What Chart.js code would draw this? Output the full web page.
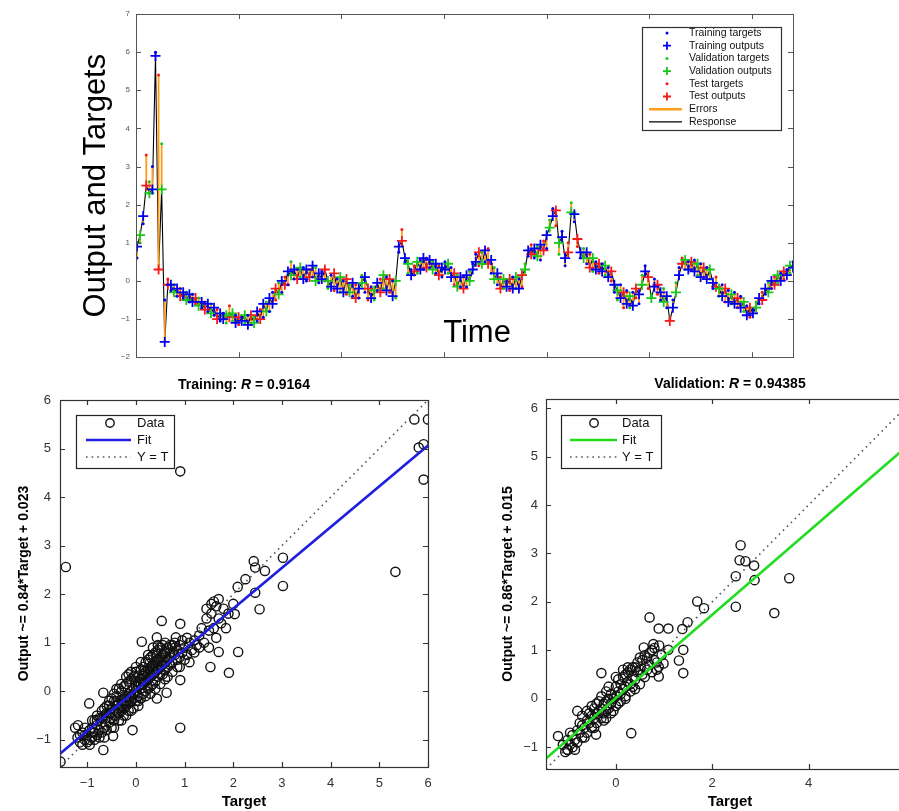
<!DOCTYPE html>
<html>
<head>
<meta charset="utf-8">
<title>Network response and regression</title>
<script src="https://cdn.jsdelivr.net/npm/chart.js@4.4.1/dist/chart.umd.min.js"></script>
<style>
  html, body { margin: 0; padding: 0; background: #fff; overflow: hidden; }
  canvas { position: absolute; display: block; }
</style>
</head>
<body>
<canvas id="responseChart" width="899" height="368" style="left:0;top:0"></canvas>
<canvas id="trainChart" width="450" height="443" style="left:0;top:368px"></canvas>
<canvas id="valChart" width="480" height="443" style="left:450px;top:368px"></canvas>
<script>
const FONT = "'Liberation Sans', Arial, Helvetica, sans-serif";

// ---- response over time (one value every SAMPLE_STEP time steps) ----
const SAMPLE_STEP = 3;
const timeTargets = [
  0.6, 1.0, 1.5, 3.3, 2.6, 3.0, 6.0, 5.4, 3.6, -0.5,
  0.05, -0.25, -0.1, -0.4, -0.2, -0.45, -0.3, -0.55, -0.35, -0.6,
  -0.45, -0.7, -0.55, -0.8, -0.6, -0.9, -0.75, -1.05, -0.85, -1.1,
  -0.65, -1.05, -0.9, -1.15, -0.95, -1.1, -0.9, -1.15, -0.95, -1.05,
  -0.75, -0.95, -0.55, -0.8, -0.3, -0.5, -0.05, -0.3, 0.1, -0.1,
  0.5, 0.05, 0.3, 0.1, 0.35, 0.0, 0.3, 0.1, 0.35, -0.05,
  0.25, 0.0, -0.2, 0.15, -0.25, 0.05, -0.3, 0.0, -0.35, -0.1,
  -0.4, -0.1, -0.45, 0.15, -0.3, -0.5, -0.15, -0.5, -0.25, 0.05,
  -0.2, 0.1, -0.3, 0.0, -0.45, 0.75, 1.35, 0.5, 0.2, 0.3,
  0.4, 0.2, 0.55, 0.3, 0.6, 0.35, 0.5, 0.2, 0.4, 0.1,
  0.5, 0.2, 0.35, -0.1, 0.15, -0.15, 0.1, -0.15, 0.25, 0.45,
  0.7, 0.4, 0.75, 0.5, 0.85, 0.2, 0.35, -0.1, 0.1, -0.2,
  0.0, -0.25, 0.1, -0.2, 0.05, -0.15, 0.45, 0.65, 0.95, 0.6,
  0.9, 0.55, 1.05, 0.85, 1.6, 1.9, 1.45, 0.7, 1.3, 0.4,
  1.0, 2.05, 1.55, 0.9, 0.6, 0.85, 0.45, 0.7, 0.25, 0.5,
  0.2, 0.45, 0.15, 0.35, 0.0, -0.3, -0.5, -0.1, -0.7, -0.25,
  -0.7, -0.3, -0.45, -0.6, 0.15, 0.4, -0.2, -0.4, 0.05, -0.35,
  -0.5, -0.2, -0.7, -1.0, -0.5, -0.05, 0.35, 0.6, 0.3, 0.5,
  0.3, 0.55, 0.15, 0.45, 0.1, 0.35, 0.05, -0.2, 0.1, -0.4,
  -0.1, -0.55, -0.25, -0.6, -0.3, -0.7, -0.4, -0.8, -0.65, -0.95,
  -0.75, -0.55, -0.6, -0.3, -0.35, -0.05, -0.2, 0.1, -0.05, 0.2,
  0.05, 0.3, 0.2, 0.5
];
const timeOutputs = [
  0.9, 1.2, 1.7, 2.5, 2.3, 2.4, 5.9, 0.3, 2.4, -1.6,
  -0.1, -0.1, -0.3, -0.2, -0.4, -0.3, -0.5, -0.35, -0.55, -0.45,
  -0.65, -0.55, -0.75, -0.6, -0.85, -0.7, -1.0, -0.85, -1.0, -0.9,
  -0.95, -0.85, -1.1, -0.95, -1.05, -0.9, -1.15, -0.9, -1.1, -0.8,
  -1.0, -0.6, -0.8, -0.45, -0.6, -0.2, -0.35, 0.0, -0.1, 0.25,
  0.15, 0.3, 0.05, 0.35, 0.05, 0.3, 0.1, 0.4, 0.0, 0.2,
  0.05, 0.3, 0.0, -0.15, 0.2, -0.2, 0.1, -0.3, 0.05, -0.3,
  -0.05, -0.45, -0.2, -0.05, 0.1, -0.2, -0.45, -0.25, -0.05, -0.3,
  0.15, -0.25, 0.05, -0.4, 0.0, 0.9, 1.05, 0.6, 0.45, 0.15,
  0.25, 0.5, 0.3, 0.6, 0.35, 0.55, 0.3, 0.45, 0.15, 0.35,
  0.3, 0.45, 0.1, 0.2, -0.15, 0.1, -0.2, 0.15, 0.0, 0.3,
  0.5, 0.75, 0.45, 0.8, 0.45, 0.55, 0.05, 0.2, -0.2, 0.05,
  -0.15, 0.05, -0.2, 0.1, -0.2, 0.15, 0.3, 0.8, 0.7, 0.85,
  0.65, 0.95, 0.8, 1.2, 1.4, 1.7, 1.85, 1.0, 1.15, 0.6,
  0.75, 1.8, 1.75, 1.1, 0.75, 0.6, 0.75, 0.35, 0.6, 0.3,
  0.45, 0.25, 0.4, 0.1, 0.25, -0.1, -0.25, -0.45, -0.3, -0.6,
  -0.4, -0.65, -0.2, -0.35, -0.1, 0.25, 0.1, -0.45, -0.15, -0.1,
  -0.3, -0.55, -0.4, -1.05, -0.7, -0.3, 0.15, 0.45, 0.55, 0.3,
  0.5, 0.25, 0.45, 0.1, 0.35, 0.05, 0.3, -0.05, -0.15, -0.2,
  -0.4, -0.2, -0.55, -0.35, -0.6, -0.45, -0.7, -0.55, -0.9, -0.7,
  -0.85, -0.7, -0.45, -0.5, -0.2, -0.3, 0.0, -0.1, 0.15, 0.0,
  0.25, 0.15, 0.4, 0.35
];
// t = training, v = validation, s = test
const timeSplit =
  'tvtsvttsvtstvtstvttsvtstvtsttvsvtstvtsvtstvttsvtstvtsvttstvt' +
  'tsvtstvtsvtstvtstvtsvtstvtstvtsvttstvtsttvtsvtstvttsvtstvtsv' +
  'tstvtsvtstvtstvtsvttsvtstvtsvtstvtstvtstvtstvtsvtstvtstvtsvt' +
  'stvtstvtsvtstvtstvtstvtstvtsvtstvtstvtst';
const timeRange = [0, 640];
const timeTicks = [0, 100, 200, 300, 400, 500, 600];
const responseRange = [-2, 7];
const responseTicks = [-2, -1, 0, 1, 2, 3, 4, 5, 6, 7];

// ---- regression panels: [target, output] ----
const trainPoints = [
  [-1.2, -0.95], [-1.15, -1.05], [-1.1, -0.85], [-1.05, -1.0], [-1.0, -0.9], [-1.0, -1.05], [-0.95, -0.8], [-0.95, -1.0],
  [-0.9, -0.75], [-0.9, -0.95], [-0.85, -0.85], [-0.85, -0.6], [-0.8, -0.7], [-0.8, -0.9], [-0.75, -0.55], [-0.75, -0.8],
  [-0.7, -0.65], [-0.7, -0.4], [-0.65, -0.75], [-0.65, -0.5], [-0.6, -0.55], [-0.6, -0.3], [-0.55, -0.45], [-0.55, -0.65],
  [-0.5, -0.35], [-0.5, -0.55], [-0.5, -0.15], [-0.45, -0.4], [-0.45, -0.6], [-0.45, -0.2], [-0.4, -0.3], [-0.4, -0.5],
  [-0.4, -0.1], [-0.35, -0.25], [-0.35, -0.45], [-0.35, 0.05], [-0.3, -0.2], [-0.3, -0.4], [-0.3, 0.0], [-0.3, -0.6],
  [-0.25, -0.15], [-0.25, -0.35], [-0.25, 0.1], [-0.2, -0.1], [-0.2, -0.3], [-0.2, 0.15], [-0.2, -0.5], [-0.15, -0.05],
  [-0.15, -0.25], [-0.15, 0.2], [-0.1, 0.0], [-0.1, -0.2], [-0.1, 0.25], [-0.1, -0.4], [-0.05, 0.05], [-0.05, -0.15],
  [-0.05, 0.3], [0.0, 0.0], [0.0, -0.2], [0.0, 0.2], [0.0, 0.4], [0.05, 0.1], [0.05, -0.1], [0.05, 0.3],
  [0.1, 0.05], [0.1, 0.25], [0.1, -0.15], [0.1, 0.45], [0.15, 0.15], [0.15, 0.35], [0.15, -0.05], [0.2, 0.2],
  [0.2, 0.4], [0.2, 0.0], [0.2, 0.6], [0.25, 0.25], [0.25, 0.45], [0.25, 0.05], [0.3, 0.3], [0.3, 0.5],
  [0.3, 0.1], [0.3, 0.7], [0.35, 0.35], [0.35, 0.55], [0.35, 0.15], [0.4, 0.4], [0.4, 0.6], [0.4, 0.2],
  [0.4, 0.8], [0.45, 0.45], [0.45, 0.65], [0.45, 0.3], [0.5, 0.5], [0.5, 0.7], [0.5, 0.35], [0.5, 0.9],
  [0.55, 0.55], [0.55, 0.75], [0.6, 0.6], [0.6, 0.8], [0.6, 0.45], [0.65, 0.65], [0.65, 0.9], [0.7, 0.7],
  [0.7, 0.55], [0.75, 0.8], [0.75, 0.95], [0.8, 0.75], [0.85, 0.85], [0.9, 0.7], [0.9, 0.95], [0.95, 0.8],
  [1.0, 0.9], [1.05, 0.75], [1.1, 1.0], [1.15, 0.85], [1.2, 1.05], [1.25, 0.95], [1.3, 1.15], [1.35, 1.3],
  [1.4, 1.0], [1.45, 1.5], [1.5, 1.25], [1.5, 0.9], [1.55, 1.6], [1.6, 1.85], [1.6, 1.3], [1.65, 1.1],
  [1.65, 1.75], [1.7, 1.9], [1.7, 1.5], [1.75, 1.4], [1.8, 1.7], [1.85, 1.3], [1.9, 1.6], [2.0, 1.8],
  [1.55, 1.8], [1.45, 1.7],
  [-0.6, -0.45], [-0.5, -0.45], [-0.4, -0.2], [-0.35, -0.35], [-0.3, -0.3], [-0.25, -0.25], [-0.2, -0.2], [-0.15, -0.15],
  [-0.1, -0.1], [-0.05, -0.05], [0.0, 0.1], [0.05, 0.2], [0.1, 0.15], [0.15, 0.25], [0.2, 0.3], [0.25, 0.35],
  [0.3, 0.4], [0.35, 0.45], [0.4, 0.5], [0.45, 0.55], [0.5, 0.6], [0.55, 0.65], [0.6, 0.7], [0.7, 0.8],
  [-0.7, -0.55], [-0.8, -0.6], [-0.9, -0.85], [-1.05, -0.9], [0.8, 0.9], [0.85, 0.65], [-0.55, -0.3], [-0.45, -0.05],
  [0.25, 0.65], [0.35, 0.75], [0.45, 0.85], [0.55, 0.95], [0.65, 0.5], [0.75, 0.6], [0.05, -0.3], [-0.15, 0.35],
  [-1.1, -1.1], [-1.05, -0.75], [-0.95, -1.1], [-0.85, -1.0], [-0.8, -0.5], [-0.75, -0.95], [-0.7, -0.85], [-0.65, -0.35],
  [-0.6, -0.8], [-0.55, -0.2], [-0.5, -0.75], [-0.45, -0.75], [-0.4, 0.05], [-0.35, -0.6], [-0.3, 0.15], [-0.25, -0.5],
  [-0.2, 0.3], [-0.15, -0.4], [-0.1, 0.4], [-0.05, -0.35], [0.0, 0.5], [0.05, -0.2], [0.1, 0.6], [0.15, 0.5],
  [0.2, -0.1], [0.25, 0.75], [0.3, -0.05], [0.35, 0.9], [0.4, 0.05], [0.45, 0.95], [0.5, 0.15], [0.55, 0.35],
  [0.6, 1.0], [0.65, 0.3], [0.7, 0.95], [0.75, 0.4], [0.8, 1.0], [0.85, 0.5], [0.9, 0.5], [0.95, 1.05],
  [1.0, 0.65], [1.05, 1.1], [1.1, 0.6], [1.2, 0.8], [1.3, 0.9], [-1.25, -0.75], [-1.15, -0.9], [-0.9, -0.6],
  [-0.65, -0.95], [0.6, 0.25],
  [5.72, 5.6], [6.0, 5.6], [5.81, 5.02], [5.91, 5.09], [5.91, 4.36], [0.91, 4.53], [-1.44, 2.56], [5.33, 2.46],
  [3.02, 2.75], [3.02, 2.17], [2.42, 2.68], [2.45, 2.55], [2.65, 2.48], [2.25, 2.31], [2.09, 2.15], [2.45, 2.03],
  [2.54, 1.69], [2.03, 1.59], [1.7, 0.81], [2.1, 0.81], [1.53, 0.5], [1.91, 0.38], [0.91, 0.23], [0.91, -0.75],
  [0.53, 1.45], [0.91, 1.39], [0.12, 1.02], [0.43, 1.11], [0.82, 1.11], [-0.96, -0.25], [-1.19, -0.7], [-0.67, -1.21],
  [-1.55, -1.45], [-0.47, -0.92], [-0.07, -0.8], [-0.67, -0.03], [0.63, -0.03], [0.43, -0.15]
];
const trainFit = { slope: 0.84, offset: 0.023 };
const trainR = 0.9164;
const trainLimits = [-1.56, 6];
const trainTicks = [-1, 0, 1, 2, 3, 4, 5, 6];

const valPoints = [
  [-1.1, -0.95], [-1.05, -1.1], [-1.0, -0.85], [-1.0, -1.05], [-0.95, -0.95], [-0.9, -0.75], [-0.9, -1.0], [-0.85, -0.85],
  [-0.8, -0.65], [-0.8, -0.9], [-0.75, -0.7], [-0.7, -0.55], [-0.7, -0.8], [-0.65, -0.6], [-0.6, -0.45], [-0.6, -0.7],
  [-0.55, -0.5], [-0.5, -0.35], [-0.5, -0.6], [-0.45, -0.4], [-0.45, -0.2], [-0.4, -0.3], [-0.4, -0.5], [-0.35, -0.25],
  [-0.35, -0.05], [-0.3, -0.2], [-0.3, -0.4], [-0.25, -0.1], [-0.25, -0.3], [-0.2, -0.05], [-0.2, -0.25], [-0.15, 0.0],
  [-0.15, -0.2], [-0.1, -0.1], [-0.1, 0.1], [-0.05, 0.0], [-0.05, -0.25], [0.0, 0.05], [0.0, 0.25], [0.0, -0.15],
  [0.05, 0.15], [0.05, 0.4], [0.1, 0.1], [0.1, 0.3], [0.1, -0.05], [0.15, 0.2], [0.15, 0.45], [0.2, 0.25],
  [0.2, 0.05], [0.25, 0.35], [0.25, 0.55], [0.3, 0.3], [0.3, 0.15], [0.35, 0.45], [0.35, 0.65], [0.4, 0.4],
  [0.45, 0.55], [0.5, 0.6], [0.5, 0.3], [0.55, 0.8], [0.6, 0.65], [0.6, 0.45], [0.65, 0.85], [0.7, 0.7],
  [0.75, 1.0], [0.8, 0.8], [0.85, 0.6], [0.9, 1.1], [0.95, 0.9], [0.25, 0.65], [0.2, 0.5], [-0.2, 0.15],
  [-0.6, -0.25], [0.4, 0.2],
  [-0.95, -0.7], [-0.85, -1.05], [-0.75, -0.5], [-0.65, -0.8], [-0.55, -0.3], [-0.5, -0.15], [-0.45, -0.6], [-0.4, -0.1],
  [-0.3, 0.05], [-0.25, -0.45], [-0.15, 0.25], [-0.1, -0.3], [0.0, 0.45], [0.05, -0.1], [0.15, 0.6], [0.2, 0.0],
  [0.3, 0.6], [0.35, 0.25], [0.45, 0.75], [0.5, 0.85], [0.55, 0.5], [0.65, 0.6], [0.7, 0.95], [0.75, 0.55],
  [0.8, 1.05], [0.85, 0.75], [0.6, 0.9], [0.4, 0.65], [-0.2, -0.4], [-0.7, -0.35],
  [2.59, 3.17], [2.57, 2.86], [2.69, 2.84], [2.87, 2.75], [2.88, 2.45], [2.49, 2.53], [3.6, 2.49], [3.29, 1.77],
  [2.49, 1.9], [1.69, 2.01], [1.83, 1.87], [0.7, 1.68], [1.49, 1.58], [1.38, 1.44], [1.09, 1.45], [0.89, 1.45],
  [1.4, 1.01], [1.31, 0.79], [1.4, 0.53], [1.09, 1.01], [-0.3, 0.53], [0.32, -0.71], [-0.41, -0.74], [-0.8, -0.25],
  [-1.2, -0.77], [-1.0, -1.06], [0.89, 0.46], [0.89, 0.66], [0.99, 0.73], [0.58, 1.06], [0.78, 1.13]
];
const valFit = { slope: 0.86, offset: 0.015 };
const valR = 0.94385;
const valLimits = [-1.45, 6.19];
const valXTicks = [0, 2, 4, 6];
const valYTicks = [-1, 0, 1, 2, 3, 4, 5, 6];

const BLUE = '#0000f0';
const GREEN = '#19c619';
const RED = '#f51a1a';
const ORANGE = '#ff9c1a';

const minusSign = v => String(v).replace('-', '\u2212');
const setTicks = values => scale => { scale.ticks = values.map(v => ({ value: v })); };

// axes box with inward tick marks on every side (MATLAB look)
const matlabAxes = {
  id: 'matlabAxes',
  afterDatasetsDraw(chart, args, opts) {
    if (!opts.color) return;
    const { ctx, chartArea: a, scales: { x, y } } = chart;
    const len = opts.tickLength;
    ctx.save();
    ctx.strokeStyle = opts.color;
    ctx.lineWidth = opts.lineWidth;
    ctx.beginPath();
    x.ticks.forEach(t => {
      const px = Math.round(x.getPixelForValue(t.value)) + 0.5;
      ctx.moveTo(px, a.bottom); ctx.lineTo(px, a.bottom - len);
      ctx.moveTo(px, a.top); ctx.lineTo(px, a.top + len);
    });
    y.ticks.forEach(t => {
      const py = Math.round(y.getPixelForValue(t.value)) + 0.5;
      ctx.moveTo(a.left, py); ctx.lineTo(a.left + len, py);
      ctx.moveTo(a.right, py); ctx.lineTo(a.right - len, py);
    });
    ctx.stroke();
    ctx.strokeRect(Math.round(a.left) + 0.5, Math.round(a.top) + 0.5, Math.round(a.width), Math.round(a.height));
    ctx.restore();
  }
};

function drawMarker(ctx, ds, x, y) {
  const r = ds.legendRadius || ds.pointRadius;
  ctx.beginPath();
  if (ds.pointStyle === 'cross') {
    ctx.moveTo(x - r, y); ctx.lineTo(x + r, y);
    ctx.moveTo(x, y - r); ctx.lineTo(x, y + r);
  } else {
    ctx.arc(x, y, r, 0, Math.PI * 2);
  }
  if (ds.pointStyle !== 'cross' && ds.backgroundColor && ds.backgroundColor !== 'transparent') {
    ctx.fillStyle = ds.backgroundColor;
    ctx.fill();
  }
  if (ds.borderWidth) {
    ctx.strokeStyle = ds.borderColor;
    ctx.lineWidth = ds.borderWidth;
    ctx.stroke();
  }
}

// boxed legend placed inside the plot area
const boxLegend = {
  id: 'boxLegend',
  afterDraw(chart, args, opts) {
    if (!opts.items) return;
    const { ctx, chartArea: a } = chart;
    const [bx, by, bw, bh] = opts.box;
    ctx.save();
    ctx.fillStyle = '#fff';
    ctx.fillRect(a.left + bx, a.top + by, bw, bh);
    ctx.strokeStyle = opts.borderColor;
    ctx.lineWidth = 1.2;
    ctx.strokeRect(Math.round(a.left + bx) + 0.5, Math.round(a.top + by) + 0.5, bw, bh);
    opts.items.forEach((idx, row) => {
      const ds = chart.data.datasets[idx];
      const y = a.top + opts.firstRow + row * opts.rowStep;
      if (ds.type === 'line') {
        ctx.beginPath();
        ctx.setLineDash(ds.borderDash || []);
        ctx.strokeStyle = ds.borderColor;
        ctx.lineWidth = ds.legendWidth || ds.borderWidth;
        ctx.moveTo(a.left + opts.lineFrom, y);
        ctx.lineTo(a.left + opts.lineTo, y);
        ctx.stroke();
        ctx.setLineDash([]);
      } else {
        drawMarker(ctx, ds, a.left + opts.symbolX, y);
      }
      ctx.font = opts.textFont;
      ctx.fillStyle = '#111';
      ctx.textBaseline = 'middle';
      ctx.textAlign = 'left';
      ctx.fillText(ds.label, a.left + opts.textX, y);
    });
    ctx.restore();
  }
};

// bold title with an italic part, centred over the plot area
const richTitle = {
  id: 'richTitle',
  afterDraw(chart, args, opts) {
    if (!opts.parts) return;
    const { ctx, chartArea: a } = chart;
    const fonts = opts.parts.map(p => `${p.italic ? 'italic ' : ''}bold ${opts.size}px ${FONT}`);
    ctx.save();
    const widths = opts.parts.map((p, i) => { ctx.font = fonts[i]; return ctx.measureText(p.text).width; });
    let x = (a.left + a.right) / 2 - widths.reduce((s, w) => s + w, 0) / 2;
    ctx.fillStyle = '#000';
    ctx.textBaseline = 'alphabetic';
    ctx.textAlign = 'left';
    opts.parts.forEach((p, i) => {
      ctx.font = fonts[i];
      ctx.fillText(p.text, x, a.top + opts.baseline);
      x += widths[i];
    });
    ctx.restore();
  }
};

const overlayText = {
  id: 'overlayText',
  afterDraw(chart, args, opts) {
    if (!opts.text) return;
    const { ctx, chartArea: a } = chart;
    ctx.save();
    ctx.font = opts.textFont;
    ctx.fillStyle = '#000';
    ctx.textAlign = 'center';
    ctx.textBaseline = 'alphabetic';
    ctx.fillText(opts.text, a.left + opts.x, a.top + opts.y);
    ctx.restore();
  }
};

Chart.register(matlabAxes, boxLegend, richTitle, overlayText);
Chart.defaults.font.family = FONT;

// ---------- top: response plot ----------
const timeOf = i => i * SAMPLE_STEP + 1;
const groups = [
  { key: 't', name: 'Training', color: BLUE },
  { key: 'v', name: 'Validation', color: GREEN },
  { key: 's', name: 'Test', color: RED },
];
const responseSets = [];
groups.forEach(g => {
  const idx = timeTargets.map((_, i) => i).filter(i => (timeSplit[i] || 't') === g.key);
  responseSets.push({
    type: 'scatter', label: `${g.name} targets`,
    data: idx.map(i => ({ x: timeOf(i), y: timeTargets[i] })),
    pointStyle: 'circle', pointRadius: 1.5, backgroundColor: g.color, borderColor: g.color, borderWidth: 0
  });
  responseSets.push({
    type: 'scatter', label: `${g.name} outputs`,
    data: idx.map(i => ({ x: timeOf(i), y: timeOutputs[i] })),
    pointStyle: 'cross', pointRadius: 5, legendRadius: 4, backgroundColor: g.color, borderColor: g.color, borderWidth: 1.8
  });
});
responseSets.push({
  type: 'line', label: 'Errors',
  data: timeTargets.flatMap((t, i) => [
    { x: timeOf(i), y: t }, { x: timeOf(i), y: timeOutputs[i] }, { x: timeOf(i), y: null }
  ]),
  borderColor: ORANGE, borderWidth: 1.8, legendWidth: 2.5, pointRadius: 0, spanGaps: false, fill: false
});
responseSets.push({
  type: 'line', label: 'Response',
  data: timeOutputs.map((o, i) => ({ x: timeOf(i), y: o })),
  borderColor: '#000', borderWidth: 1.1, pointRadius: 0, fill: false, tension: 0
});

new Chart(document.getElementById('responseChart'), {
  type: 'scatter',
  data: { datasets: responseSets },
  options: {
    responsive: false,
    animation: false,
    events: [],
    layout: { padding: { left: 0, top: 14, right: 106, bottom: 9 } },
    plugins: {
      legend: { display: false },
      tooltip: { enabled: false },
      matlabAxes: { color: '#555', tickLength: 5, lineWidth: 1 },
      boxLegend: {
        items: [0, 1, 2, 3, 4, 5, 6, 7],
        box: [506, 13, 139, 103], firstRow: 19, rowStep: 12.7,
        symbolX: 531, lineFrom: 513, lineTo: 546, textX: 553,
        textFont: `10.5px ${FONT}`, borderColor: '#333'
      },
      overlayText: { text: 'Time', textFont: `31px ${FONT}`, x: 341, y: 328 }
    },
    scales: {
      x: {
        type: 'linear', min: timeRange[0], max: timeRange[1], bounds: 'data',
        grid: { display: false, drawTicks: false }, border: { display: false },
        ticks: { display: false },
        afterBuildTicks: setTicks(timeTicks),
        afterFit: s => { s.height = 0; }
      },
      y: {
        type: 'linear', min: responseRange[0], max: responseRange[1], bounds: 'data',
        grid: { display: false, drawTicks: false }, border: { display: false },
        ticks: { font: { size: 8 }, color: '#555', padding: 6, callback: minusSign },
        afterBuildTicks: setTicks(responseTicks),
        afterFit: s => { s.width = 136; },
        title: { display: true, text: 'Output and Targets', color: '#000', font: { size: 31 }, padding: { top: 78, bottom: 0 } }
      }
    }
  }
});

// ---------- bottom: regression plots ----------
function regressionChart(canvasId, cfg) {
  const [lo, hi] = cfg.limits;
  const fitAt = v => cfg.fit.slope * v + cfg.fit.offset;
  return new Chart(document.getElementById(canvasId), {
    type: 'scatter',
    data: {
      datasets: [
        {
          type: 'scatter', label: 'Data', order: 2,
          data: cfg.points.map(([t, o]) => ({ x: t, y: o })),
          pointStyle: 'circle', pointRadius: 4.6, legendRadius: 4.2, backgroundColor: 'transparent', borderColor: '#111', borderWidth: 1.4
        },
        {
          type: 'line', label: 'Fit', order: 0,
          data: [{ x: lo, y: fitAt(lo) }, { x: hi, y: fitAt(hi) }],
          borderColor: cfg.color, borderWidth: 2.6, pointRadius: 0, fill: false
        },
        {
          type: 'line', label: 'Y = T', order: 1,
          data: [{ x: lo, y: lo }, { x: hi, y: hi }],
          borderColor: '#555', borderWidth: 1.6, borderDash: [1.6, 4], pointRadius: 0, fill: false
        }
      ]
    },
    options: {
      responsive: false,
      animation: false,
      events: [],
      layout: { padding: cfg.padding },
      plugins: {
        legend: { display: false },
        tooltip: { enabled: false },
        matlabAxes: { color: '#333', tickLength: 5, lineWidth: 1.2 },
        boxLegend: Object.assign({ items: [0, 1, 2], rowStep: 17, textFont: `13px ${FONT}`, borderColor: '#222' }, cfg.legend),
        richTitle: {
          size: 14, baseline: -11,
          parts: [{ text: `${cfg.name}: ` }, { text: 'R', italic: true }, { text: ` = ${cfg.r}` }]
        }
      },
      scales: {
        x: {
          type: 'linear', min: lo, max: hi, bounds: 'data',
          grid: { display: false, drawTicks: false }, border: { display: false },
          ticks: { font: { size: 13 }, color: '#333', padding: cfg.xTickPad, callback: minusSign, autoSkip: false, maxRotation: 0 },
          afterBuildTicks: setTicks(cfg.xTicks),
          afterFit: s => { s.height = cfg.xHeight; },
          title: { display: true, text: 'Target', color: '#000', font: { size: 15, weight: 'bold' }, padding: { top: 0, bottom: 0 } }
        },
        y: {
          type: 'linear', min: lo, max: hi, bounds: 'data',
          grid: { display: false, drawTicks: false }, border: { display: false },
          ticks: { font: { size: 13 }, color: '#333', padding: cfg.yTickPad, callback: minusSign, autoSkip: false },
          afterBuildTicks: setTicks(cfg.yTicks),
          afterFit: s => { s.width = cfg.yWidth; },
          title: {
            display: true, color: '#000', font: { size: 14, weight: 'bold' },
            text: `Output ~= ${cfg.fit.slope}*Target + ${cfg.fit.offset}`,
            padding: { top: cfg.yTitlePad, bottom: 0 }
          }
        }
      }
    }
  });
}

regressionChart('trainChart', {
  name: 'Training', r: trainR, points: trainPoints, fit: trainFit, limits: trainLimits,
  xTicks: trainTicks, yTicks: trainTicks, color: '#1f1fe0',
  padding: { left: 0, top: 32, right: 22, bottom: 0 },
  xHeight: 44, yWidth: 60, xTickPad: 9, yTickPad: 9, yTitlePad: 16,
  legend: { box: [16, 15, 98, 53], firstRow: 23, symbolX: 50, lineFrom: 26, lineTo: 71, textX: 77 }
});

regressionChart('valChart', {
  name: 'Validation', r: valR, points: valPoints, fit: valFit, limits: valLimits,
  xTicks: valXTicks, yTicks: valYTicks, color: '#22dd22',
  padding: { left: 0, top: 31, right: 16, bottom: 0 },
  xHeight: 42, yWidth: 96, xTickPad: 7, yTickPad: 8, yTitlePad: 50,
  legend: { box: [15, 16, 100, 53], firstRow: 24, symbolX: 48, lineFrom: 24, lineTo: 71, textX: 76 }
});
</script>
</body>
</html>
